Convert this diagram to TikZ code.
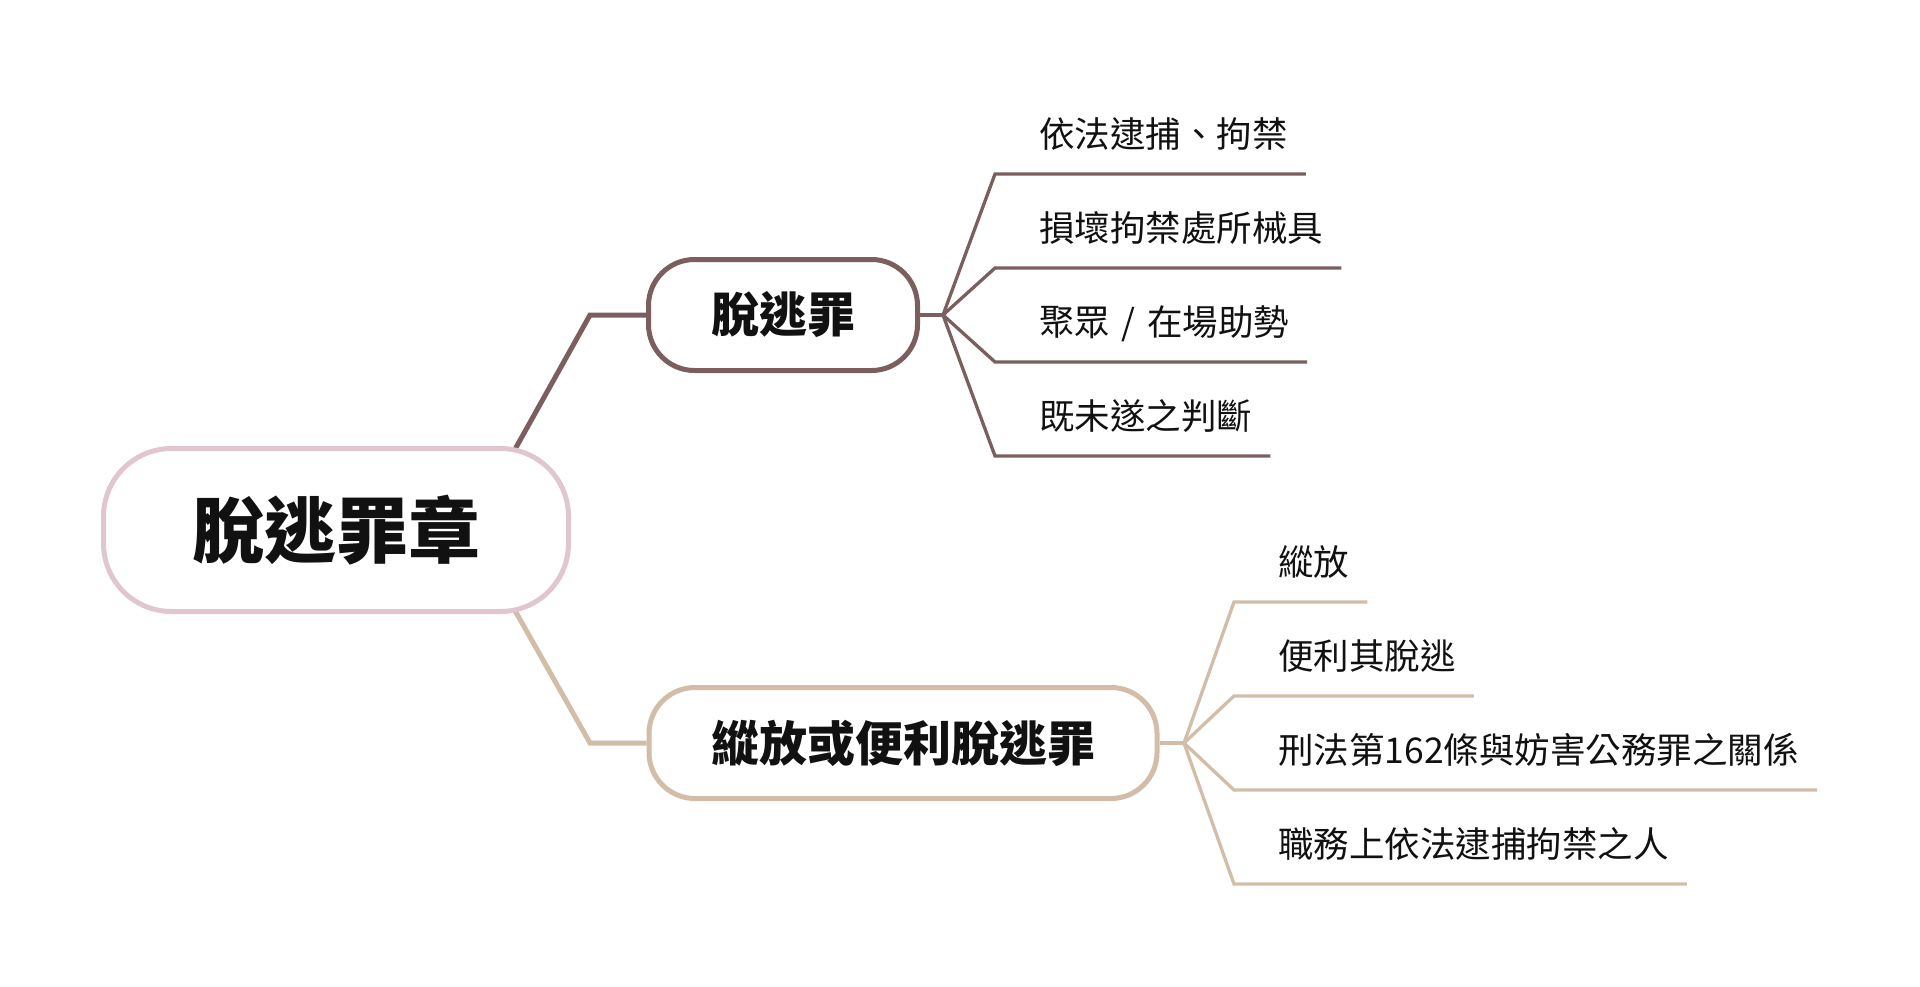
\documentclass[tikz,border=0pt]{standalone}
\usepackage{fontspec}
\setmainfont{Noto Sans CJK TC}
\usetikzlibrary{calc}
\pgfdeclarelayer{bg}
\pgfsetlayers{bg,main}
\definecolor{rootc}{HTML}{E0C6CE}
\definecolor{brA}{HTML}{7A5F5E}
\definecolor{brB}{HTML}{D2BDA8}
\definecolor{txt}{HTML}{111111}
\begin{document}
\begin{tikzpicture}[x=1pt,y=-1pt,
  rootbox/.style={draw=rootc,line width=5pt,fill=white,rounded corners=68pt,
    minimum width=465pt,minimum height=163pt,inner sep=0pt,
    font=\fontsize{72}{80}\selectfont\bfseries,text=txt},
  mainbox/.style={draw=#1,line width=5pt,fill=white,rounded corners=46pt,
    minimum height=111pt,inner sep=0pt,
    font=\fontsize{48}{56}\selectfont\bfseries,text=txt},
  leaf/.style={anchor=west,inner sep=0pt,font=\fontsize{35.5}{40}\selectfont,
    text=txt,text height=29pt,text depth=5pt},
  conA/.style={draw=brA,line width=5pt},
  conB/.style={draw=brB,line width=5pt},
  leafA/.style={draw=brA,line width=3.3pt},
  leafB/.style={draw=brB,line width=3.3pt}
]
\useasboundingbox (0,0) rectangle (1920,986);

\node[rootbox] (root) at (336,530) {脫逃罪章};
\node[mainbox=brA,minimum width=269pt] (n1) at (783,315) {脫逃罪};
\node[mainbox=brB,minimum width=508pt] (n2) at (903,743) {縱放或便利脫逃罪};

\coordinate (k1) at (590,315);
\coordinate (k2) at (590,743);
\coordinate (h1) at (943,315);
\coordinate (h2) at (1184,743);

\node[leaf] (a1) at (1039,135) {依法逮捕、拘禁};
\node[leaf] (a2) at (1039,229) {損壞拘禁處所械具};
\node[leaf] (a3) at (1039,323) {聚眾\hspace{3.5pt} / \hspace{3.5pt}在場助勢};
\node[leaf] (a4) at (1039,417) {既未遂之判斷};

\node[leaf] (b1) at (1278,563) {縱放};
\node[leaf] (b2) at (1278,657) {便利其脫逃};
\node[leaf] (b3) at (1278,751) {刑法第162條與妨害公務罪之關係};
\node[leaf] (b4) at (1278,845) {職務上依法逮捕拘禁之人};

\begin{pgfonlayer}{bg}
\draw[conA] ($(root.center)+(173,-70)$) -- (k1) -- (n1.west);
\draw[conB] ($(root.center)+(173,70)$) -- (k2) -- (n2.west);
\draw[leafA] (n1.east) -- (h1);
\draw[leafB] (n2.east) -- (h2);
\foreach \n in {a1,a2,a3,a4}{
  \draw[leafA] (h1) -- ([xshift=-44pt,yshift=-39pt]\n.west) -- ([xshift=18pt,yshift=-39pt]\n.east);
}
\foreach \n in {b1,b2,b3,b4}{
  \draw[leafB] (h2) -- ([xshift=-44pt,yshift=-39pt]\n.west) -- ([xshift=18pt,yshift=-39pt]\n.east);
}
\end{pgfonlayer}
\end{tikzpicture}
\end{document}
